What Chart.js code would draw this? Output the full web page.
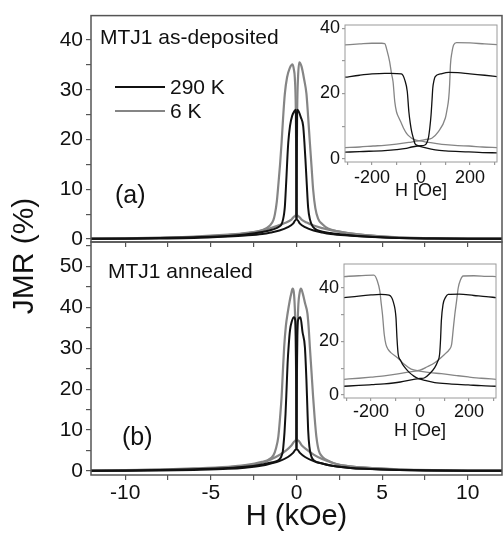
<!DOCTYPE html>
<html>
<head>
<meta charset="utf-8">
<script src="https://cdn.jsdelivr.net/npm/chart.js@4.4.1/dist/chart.umd.min.js"></script>
<style>
  html, body { margin: 0; padding: 0; background: #fff; }
  #wrap { position: relative; width: 503px; height: 534px; }
  #wrap canvas { position: absolute; left: 0; top: 0; }
</style>
</head>
<body>
<div id="wrap">
  <canvas id="mainA" width="503" height="534"></canvas>
  <canvas id="mainB" width="503" height="534"></canvas>
  <canvas id="insetA" width="503" height="534"></canvas>
  <canvas id="insetB" width="503" height="534"></canvas>
</div>
<script>
// ---- data: [H, JMR %] ----
// panel (a), as-deposited, H in kOe
const a290Down = [[-12,0.05],[-10,0.1],[-8,0.2],[-6,0.35],[-4,0.6],[-3,0.9],[-2,1.4],[-1.4,1.9],[-1,2.5],[-0.87,3.0],[-0.78,4.0],[-0.72,5.2],[-0.68,6.5],[-0.63,9.5],[-0.58,12.9],[-0.53,16.5],[-0.48,19.4],[-0.38,22.7],[-0.25,24.8],[-0.12,25.7],[-0.05,26],[-0.03,25],[-0.01,14],[0,4.2],[0.05,3.8],[0.2,3.1],[0.5,2.4],[1,1.7],[1.5,1.3],[2,1.0],[3,0.7],[4,0.5],[6,0.2],[8,0.1],[10,0.05],[12,0.05]];
const a290Up = [[-12,0.05],[-10,0.05],[-8,0.1],[-6,0.2],[-4,0.5],[-3,0.7],[-2,1.0],[-1.5,1.3],[-1,1.7],[-0.5,2.4],[-0.2,3.1],[-0.05,3.8],[0,4.2],[0.01,14],[0.03,25],[0.05,26],[0.12,25.7],[0.25,24.5],[0.39,22.7],[0.46,19.5],[0.52,16.1],[0.6,11],[0.68,6.3],[0.78,4],[0.97,2.4],[1.3,1.7],[2,1.2],[3,0.8],[4,0.5],[6,0.2],[8,0.1],[10,0.05],[12,0.05]];
const a6Down = [[-12,0.1],[-10,0.15],[-8,0.3],[-6,0.5],[-4,0.9],[-3,1.2],[-2,1.8],[-1.55,2.7],[-1.35,3.8],[-1.26,5],[-1.15,7.5],[-1.06,10.9],[-0.96,15],[-0.87,19.4],[-0.78,24.5],[-0.68,29.2],[-0.55,32.5],[-0.4,34.3],[-0.23,35.1],[-0.15,34],[-0.1,32.5],[-0.04,26],[-0.01,14],[0.01,5.2],[0.1,4.6],[0.3,3.9],[0.6,3.3],[1,2.7],[1.5,2.2],[2,1.8],[3,1.2],[4,0.8],[6,0.35],[8,0.15],[10,0.1],[12,0.1]];
const a6Up = [[-12,0.1],[-10,0.1],[-8,0.2],[-6,0.4],[-4,0.8],[-3,1.1],[-2,1.7],[-1.5,2.2],[-1,2.8],[-0.6,3.3],[-0.3,3.9],[-0.1,4.6],[-0.01,5.2],[0.01,14],[0.04,26],[0.09,32.5],[0.16,35.5],[0.3,34.6],[0.45,32],[0.58,29.2],[0.68,24.5],[0.78,19.4],[0.88,14.5],[0.97,10],[1.1,6.2],[1.26,4.1],[1.5,3.0],[1.84,2.1],[2.5,1.5],[3,1.2],[4,0.8],[6,0.3],[8,0.15],[10,0.1],[12,0.1]];

// panel (b), annealed, H in kOe
const b290Down = [[-12,0.05],[-10,0.1],[-8,0.2],[-6,0.4],[-4,0.7],[-3,1.0],[-2,1.6],[-1.4,2.1],[-1.06,2.6],[-0.9,3.4],[-0.8,4.8],[-0.77,5.9],[-0.7,9.5],[-0.64,14],[-0.58,20],[-0.52,26.3],[-0.45,31],[-0.38,34.4],[-0.28,36.5],[-0.15,37.6],[-0.08,37],[-0.04,33],[-0.02,22],[0,5.6],[0.05,5.2],[0.2,4.4],[0.5,3.4],[1,2.4],[1.5,1.8],[2,1.3],[3,0.8],[4,0.5],[6,0.25],[8,0.1],[10,0.05],[12,0.05]];
const b290Up = [[-12,0.05],[-10,0.05],[-8,0.1],[-6,0.25],[-4,0.5],[-3,0.8],[-2,1.3],[-1.5,1.8],[-1,2.4],[-0.5,3.4],[-0.2,4.4],[-0.05,5.2],[0,5.6],[0.02,22],[0.04,33],[0.1,37],[0.23,37.6],[0.35,34],[0.49,30.3],[0.58,22.2],[0.63,16],[0.68,10],[0.75,6],[0.87,3.5],[1.06,2.4],[1.5,1.8],[2,1.3],[3,0.8],[4,0.5],[6,0.2],[8,0.1],[10,0.05],[12,0.05]];
const b6Down = [[-12,0.1],[-10,0.2],[-8,0.35],[-6,0.6],[-4,1.0],[-3,1.4],[-2,2.2],[-1.65,2.7],[-1.35,3.8],[-1.2,5.5],[-1.06,8.4],[-0.96,13],[-0.87,18.1],[-0.8,24],[-0.72,30.3],[-0.62,35.5],[-0.52,38.5],[-0.4,41.5],[-0.3,43.5],[-0.23,44.6],[-0.16,43.8],[-0.1,40],[-0.05,33],[-0.01,20],[0.01,8.2],[0.1,7.4],[0.3,6.3],[0.6,5.2],[1,4.0],[1.5,2.9],[2,2.1],[2.5,1.5],[3,1.2],[4,0.8],[6,0.4],[8,0.2],[10,0.1],[12,0.1]];
const b6Up = [[-12,0.1],[-10,0.15],[-8,0.3],[-6,0.5],[-4,0.9],[-3,1.3],[-2,2.0],[-1.5,2.8],[-1,3.9],[-0.6,5.0],[-0.3,6.2],[-0.1,7.3],[-0.01,8.2],[0.01,20],[0.05,33],[0.1,40],[0.18,43.5],[0.26,44.6],[0.36,43.5],[0.5,41],[0.64,38.5],[0.72,34.5],[0.78,30.3],[0.88,24],[0.97,18.1],[1.06,13],[1.16,8.4],[1.3,5],[1.5,3.5],[2,2.2],[2.5,1.5],[3,1.2],[4,0.8],[6,0.35],[8,0.15],[10,0.1],[12,0.1]];

// insets, H in Oe
const ia290Down = [[-310,25.0],[-250,25.6],[-200,26.0],[-148,26.2],[-100,26.1],[-80,26.0],[-66,24.1],[-56,20.6],[-49.5,14.4],[-44,11],[-38,8.3],[-30,6],[-25,4.7],[-15,4.1],[-4,3.8],[20,3.3],[58,2.7],[100,2.4],[195,2.1],[250,1.9],[310,1.8]];
const ia290Up = [[-310,2.0],[-250,2.2],[-148,2.5],[-100,2.8],[-60,3.2],[-38,3.6],[-15,3.9],[0,4.0],[16,4.2],[30,6.3],[36,9.5],[41,13.4],[45,18],[48,21.6],[53,24],[58,25.2],[80,26],[113,26.5],[150,26.4],[200,26],[260,25.6],[310,25.2]];
const ia6Down = [[-310,34.9],[-250,35.2],[-200,35.4],[-160,35.4],[-148,35.3],[-138,33],[-128,29.8],[-120,26],[-114,23.6],[-107,17.5],[-100,14.4],[-90,12.5],[-80,10.9],[-70,9.2],[-59,7.8],[-45,6.7],[-32,6.0],[-15,5.6],[3,5.4],[30,5.0],[58,4.7],[100,4.3],[150,4.0],[195,3.9],[250,3.6],[310,3.4]];
const ia6Up = [[-310,3.4],[-250,3.6],[-195,3.9],[-150,4.1],[-100,4.5],[-50,5.0],[-20,5.4],[0,5.6],[20,5.9],[44,6.3],[71,8.3],[99,12.4],[106,15],[113,18.5],[117,23],[120,28.7],[126,32.5],[133,34.9],[145,35.6],[200,35.5],[260,35.2],[310,35.0]];

const ib290Down = [[-310,36.4],[-250,37],[-200,37.4],[-160,37.6],[-126,37.3],[-108,34.5],[-98,28.9],[-94,21.4],[-89,15.2],[-80,13],[-71,11.4],[-57,9.7],[-43,8.3],[-25,7],[-9,6.2],[20,5.4],[60,4.6],[120,4.1],[197,3.7],[250,3.4],[310,3.2]];
const ib290Up = [[-310,3.2],[-250,3.5],[-197,3.8],[-146,4.1],[-80,4.8],[-25,5.8],[0,6.1],[19,6.4],[40,8],[60,10.2],[72,12.5],[80,15.2],[84,21],[87,27.6],[94,33.9],[104,36.5],[115,37.6],[160,37.7],[220,37.2],[270,36.8],[310,36.4]];
const ib6Down = [[-310,44.3],[-250,44.6],[-188,44.8],[-174,42.6],[-164,38.9],[-158,34],[-153,30.1],[-146,22.7],[-139,18.9],[-130,17],[-119,15.8],[-92,13.9],[-64,11.4],[-36,9.6],[-2,8.9],[40,8.3],[87,7.9],[150,7.2],[197,6.7],[250,6.2],[310,5.8]];
const ib6Up = [[-310,5.8],[-250,6.2],[-200,6.6],[-146,7.1],[-90,7.8],[-40,8.6],[0,9.2],[30,10.5],[60,12],[101,15.2],[120,17],[129,18.9],[136,25],[142,30.1],[149,35],[156,40.1],[165,43],[176,44.5],[220,44.6],[270,44.4],[310,44.3]];

// ---- styles ----
const BLACK = '#111';
const GRAY = '#858585';
const AXIS = '#555';
const INSET_AXIS = '#9a9a9a';
const TEXT = '#111';
Chart.defaults.font.family = '"Liberation Sans", Arial, Helvetica, sans-serif';
Chart.defaults.color = TEXT;

const toXY = pts => pts.map(([x, y]) => ({ x, y }));

function curve(pts, color, width) {
    return {
        data: toXY(pts),
        borderColor: color,
        borderWidth: width,
        pointRadius: 0,
        fill: false,
        cubicInterpolationMode: 'monotone'
    };
}

function tickGrid(len, color) {
    return { display: true, drawOnChartArea: false, drawTicks: true, tickLength: len, color: color, lineWidth: 1.2 };
}

// box around the plot area, optional white fill (insets)
const framePlugin = {
    id: 'frame',
    beforeDraw(chart, args, opts) {
        if (!opts.fill) return;
        const { ctx, chartArea: a } = chart;
        ctx.save();
        ctx.fillStyle = opts.fill;
        ctx.fillRect(a.left, a.top, a.right - a.left, a.bottom - a.top);
        ctx.restore();
    },
    afterDatasetsDraw(chart, args, opts) {
        const { ctx, chartArea: a } = chart;
        ctx.save();
        ctx.strokeStyle = opts.color;
        ctx.lineWidth = opts.width;
        ctx.strokeRect(a.left, a.top, a.right - a.left, a.bottom - a.top);
        ctx.restore();
    }
};

// free text and legend samples
const notesPlugin = {
    id: 'notes',
    afterDraw(chart, args, opts) {
        const ctx = chart.ctx;
        (opts.lines || []).forEach(l => {
            ctx.save();
            ctx.strokeStyle = l.color;
            ctx.lineWidth = l.width;
            ctx.beginPath();
            ctx.moveTo(l.x1, l.y);
            ctx.lineTo(l.x2, l.y);
            ctx.stroke();
            ctx.restore();
        });
        (opts.texts || []).forEach(t => {
            ctx.save();
            ctx.fillStyle = TEXT;
            ctx.font = t.size + 'px ' + Chart.defaults.font.family;
            ctx.textAlign = t.align || 'left';
            ctx.textBaseline = 'alphabetic';
            ctx.translate(t.x, t.y);
            if (t.rotate) ctx.rotate(t.rotate);
            ctx.fillText(t.text, 0, 0);
            ctx.restore();
        });
    }
};

const common = { responsive: false, animation: false, events: [] };

// ---- panel (a) ----
new Chart(document.getElementById('mainA'), {
    type: 'line',
    data: { datasets: [
        curve(a290Down, BLACK, 2), curve(a290Up, BLACK, 2),
        curve(a6Down, GRAY, 2.2), curve(a6Up, GRAY, 2.2)
    ] },
    options: {
        ...common,
        layout: { padding: { left: 0, right: 1, top: 10, bottom: 284 } },
        scales: {
            x: {
                type: 'linear', min: -12, max: 12,
                afterFit: s => { s.height = 8; },
                ticks: { display: false, stepSize: 2.5, includeBounds: false, autoSkip: false },
                grid: tickGrid(5, AXIS), border: { display: false }
            },
            y: {
                min: -0.6, max: 44.9,
                afterFit: s => { s.width = 91; },
                ticks: { stepSize: 5, includeBounds: false, autoSkip: false, padding: 3,
                         font: { size: 21 }, color: TEXT,
                         callback: v => (v % 10 === 0 ? v : '') },
                grid: tickGrid(5, AXIS), border: { display: false }
            }
        },
        plugins: {
            legend: { display: false }, tooltip: { enabled: false },
            frame: { color: AXIS, width: 1.5 },
            notes: {
                lines: [
                    { x1: 115, x2: 165, y: 87, color: BLACK, width: 2 },
                    { x1: 115, x2: 165, y: 111, color: GRAY, width: 2.2 }
                ],
                texts: [
                    { text: 'MTJ1 as-deposited', x: 100, y: 44, size: 21 },
                    { text: '290 K', x: 170, y: 94, size: 21 },
                    { text: '6 K', x: 170, y: 118, size: 21 },
                    { text: '(a)', x: 115, y: 203, size: 25 }
                ]
            }
        }
    },
    plugins: [framePlugin, notesPlugin]
});

// ---- panel (b) ----
new Chart(document.getElementById('mainB'), {
    type: 'line',
    data: { datasets: [
        curve(b290Down, BLACK, 2), curve(b290Up, BLACK, 2),
        curve(b6Down, GRAY, 2.2), curve(b6Up, GRAY, 2.2)
    ] },
    options: {
        ...common,
        layout: { padding: { left: 0, right: 1, top: 242, bottom: 0 } },
        scales: {
            x: {
                type: 'linear', min: -12, max: 12,
                afterFit: s => { s.height = 59; },
                ticks: { stepSize: 2.5, includeBounds: false, autoSkip: false, maxRotation: 0, padding: 1,
                         font: { size: 21 }, color: TEXT,
                         callback: v => (v % 5 === 0 ? v : '') },
                title: { display: true, text: 'H (kOe)', font: { size: 29 }, color: TEXT, padding: 0 },
                grid: tickGrid(5, AXIS), border: { display: false }
            },
            y: {
                min: -1, max: 56,
                afterFit: s => { s.width = 91; },
                ticks: { stepSize: 5, includeBounds: false, autoSkip: false, padding: 3,
                         font: { size: 21 }, color: TEXT,
                         callback: v => (v % 10 === 0 ? v : '') },
                grid: tickGrid(5, AXIS), border: { display: false }
            }
        },
        plugins: {
            legend: { display: false }, tooltip: { enabled: false },
            frame: { color: AXIS, width: 1.5 },
            notes: {
                texts: [
                    { text: 'MTJ1 annealed', x: 108, y: 278, size: 21 },
                    { text: '(b)', x: 122, y: 445, size: 25 },
                    { text: 'JMR (%)', x: 33, y: 256, size: 30, align: 'center', rotate: -Math.PI / 2 }
                ]
            }
        }
    },
    plugins: [framePlugin, notesPlugin]
});

// ---- insets ----
function insetOptions(pad, yMin, yMax, xHeight, labelPad) {
    return {
        ...common,
        layout: { padding: pad },
        scales: {
            x: {
                type: 'linear', min: -310, max: 310,
                afterFit: s => { s.height = xHeight; },
                ticks: { stepSize: 100, includeBounds: false, autoSkip: false, maxRotation: 0, padding: labelPad,
                         font: { size: 18 }, color: TEXT,
                         callback: v => (v % 200 === 0 ? v : '') },
                title: { display: true, text: 'H [Oe]', font: { size: 18 }, color: TEXT, padding: 0 },
                grid: tickGrid(3, INSET_AXIS), border: { display: false }
            },
            y: {
                min: yMin, max: yMax,
                afterFit: s => { s.width = 30; },
                ticks: { stepSize: 10, includeBounds: false, autoSkip: false, padding: 2,
                         font: { size: 18 }, color: TEXT,
                         callback: v => (v % 20 === 0 ? v : '') },
                grid: tickGrid(3, INSET_AXIS), border: { display: false }
            }
        },
        plugins: {
            legend: { display: false }, tooltip: { enabled: false },
            frame: { color: INSET_AXIS, width: 1, fill: '#fff' }
        }
    };
}

new Chart(document.getElementById('insetA'), {
    type: 'line',
    data: { datasets: [
        curve(ia290Down, BLACK, 1.3), curve(ia290Up, BLACK, 1.3),
        curve(ia6Down, GRAY, 1.3), curve(ia6Up, GRAY, 1.3)
    ] },
    options: insetOptions({ left: 315, right: 6, top: 25, bottom: 332 }, -1, 41, 40, 2),
    plugins: [framePlugin]
});

new Chart(document.getElementById('insetB'), {
    type: 'line',
    data: { datasets: [
        curve(ib290Down, BLACK, 1.3), curve(ib290Up, BLACK, 1.3),
        curve(ib6Down, GRAY, 1.3), curve(ib6Up, GRAY, 1.3)
    ] },
    options: insetOptions({ left: 314, right: 7, top: 264, bottom: 92 }, -1.2, 49, 44, 0),
    plugins: [framePlugin]
});
</script>
</body>
</html>
